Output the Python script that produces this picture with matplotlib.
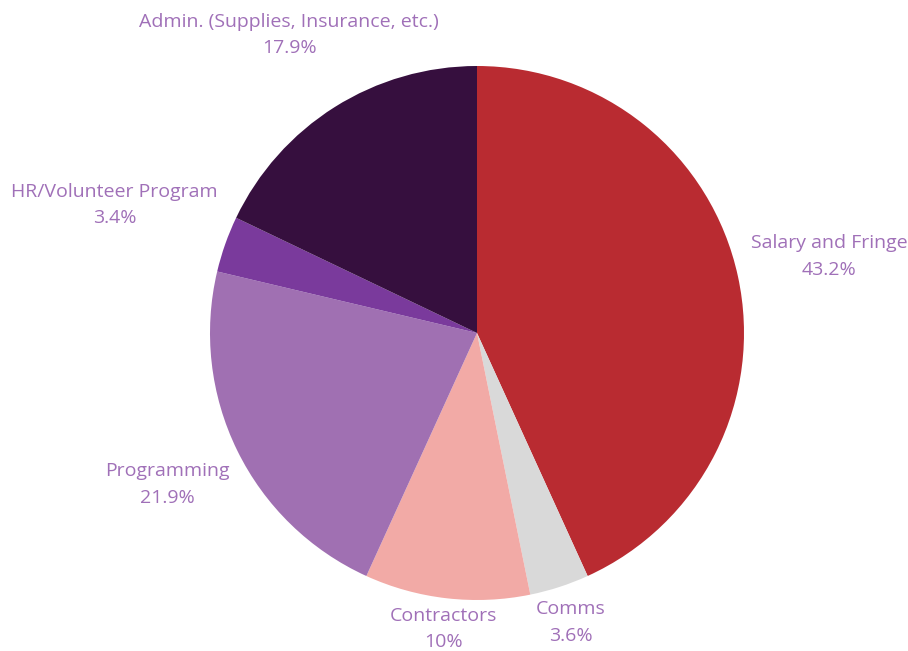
import numpy as np
import matplotlib
matplotlib.use('Agg')
import matplotlib.pyplot as plt

categories = ['Salary and Fringe', 'Comms', 'Contractors', 'Programming',
              'HR/Volunteer Program', 'Admin. (Supplies, Insurance, etc.)']
values = [43.2, 3.6, 10, 21.9, 3.4, 17.9]
pct_labels = ['43.2%', '3.6%', '10%', '21.9%', '3.4%', '17.9%']

colors = ['#b92b31', '#d9d9d9', '#f2aaa6', '#a070b2', '#7a3a9c', '#360f3e']
label_color = '#a070b8'
# distance of each label from the centre, in pie radii
label_dist = [1.35, 1.14, 1.115, 1.29, 1.44, 1.32]

plt.rcParams['font.family'] = ['Open Sans', 'DejaVu Sans']

fig = plt.figure(figsize=(9.08, 6.51), dpi=100)
ax = fig.add_axes([210 / 908, 51 / 651, 534 / 908, 534 / 651])

wedges, _ = ax.pie(values, colors=colors, startangle=90, counterclock=False,
                   radius=1, wedgeprops=dict(linewidth=0))

for w, name, pct, d in zip(wedges, categories, pct_labels, label_dist):
    mid = np.deg2rad((w.theta1 + w.theta2) / 2)
    ax.text(d * np.cos(mid), d * np.sin(mid), name + '\n' + pct,
            ha='center', va='center', color=label_color, fontsize=14,
            linespacing=1.6)

ax.set_xlim(-1, 1)
ax.set_ylim(-1, 1)
ax.set_aspect('equal')
ax.axis('off')

fig.savefig('out.png', dpi=100)
